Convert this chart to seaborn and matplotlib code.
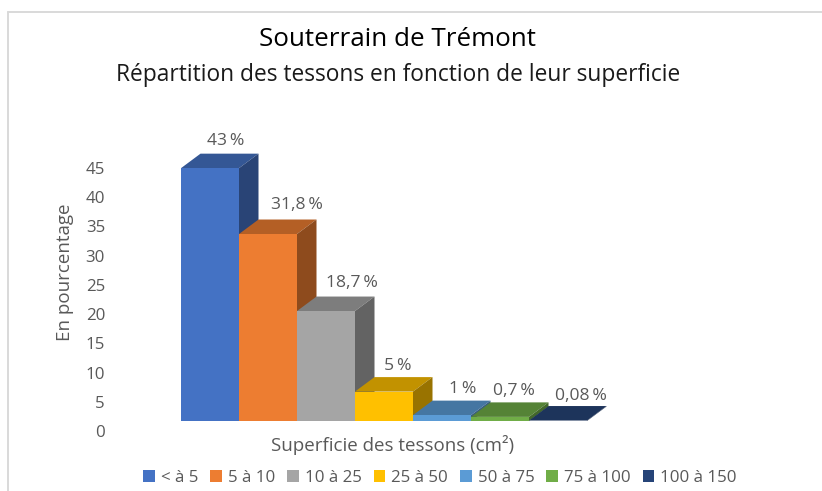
import numpy as np
import matplotlib
matplotlib.use("Agg")
import matplotlib.pyplot as plt
from matplotlib.lines import Line2D
from matplotlib.patches import Polygon, Patch
from matplotlib.colors import to_rgb
import seaborn as sns

categories = ["< à 5", "5 à 10", "10 à 25", "25 à 50", "50 à 75", "75 à 100", "100 à 150"]
values = [43, 31.8, 18.7, 5, 1, 0.7, 0.08]
labels = ["43\u2009%", "31,8\u2009%", "18,7\u2009%", "5\u2009%", "1\u2009%", "0,7\u2009%", "0,08\u2009%"]
colors = ["#4472C4", "#ED7D31", "#A5A5A5", "#FFC000", "#5B9BD5", "#70AD47", "#264478"]
label_offsets = [(16, 27.5), (29, 29.5), (26, 28.5), (14, 25.5), (21, 26.5), (14, 25.5), (23, 24.5)]
yticks = [0, 5, 10, 15, 20, 25, 30, 35, 40, 45]

W, H = 822, 491
sns.set_theme(style="white")
plt.rcParams["font.family"] = ["Open Sans", "DejaVu Sans"]
GRAY = "#595959"

def fx(px): return px / W
def fy(py): return 1 - py / H

fig = plt.figure(figsize=(W / 100, H / 100), dpi=100, facecolor="white")

# Main axes: bars. 1 value unit = 5.88 px, baseline at y=421 px
ymax = 50
top_px = 421 - ymax * 5.88
ax = fig.add_axes([fx(181), fy(421), fx(587) - fx(181), (421 - top_px) / H])
sns.barplot(x=categories, y=values, hue=categories, palette=colors, width=1.0,
            dodge=False, legend=False, ax=ax, saturation=1, order=categories)
ax.set_xlim(-0.5, 6.5)
ax.set_ylim(0, ymax)
ax.axis("off")

# Depth faces
dx = 19.5 / 58
dy = 14.5 / 5.88
for i, (bar, v, c) in enumerate(zip(ax.patches, values, colors)):
    rgb = np.array(to_rgb(c))
    bar.set_zorder(10 + i + 0.5)
    bar.set_linewidth(0)
    x0, x1 = i - 0.5, i + 0.5
    ax.add_patch(Polygon([(x0, v), (x1, v), (x1 + dx, v + dy), (x0 + dx, v + dy)],
                         closed=True, fc=rgb * 0.76, ec="none", zorder=10 + i, clip_on=False))
    ax.add_patch(Polygon([(x1, 0), (x1, v), (x1 + dx, v + dy), (x1 + dx, dy)],
                         closed=True, fc=rgb * 0.6, ec="none", zorder=10 + i, clip_on=False))
    ax.annotate(labels[i], (i, v), xytext=(label_offsets[i][0] * 0.72, label_offsets[i][1] * 0.72),
                textcoords="offset points", ha="center", va="center",
                fontsize=12.6, color=GRAY, zorder=30, annotation_clip=False)

# Value axis: 0 at y=431 px, 45 at y=168 px (back wall of the 3D chart)
ax2 = fig.add_axes([fx(112), fy(431), fx(170) - fx(112), (431 - 168) / H], frameon=False)
ax2.set_ylim(0, 45)
ax2.set_xticks([])
ax2.set_yticks(yticks)
ax2.tick_params(axis="y", length=0, pad=5, labelsize=12.2, labelcolor=GRAY)

# Frame
for xs, ys in [((8, 8), (491, 12)), ((8, 822), (12, 12))]:
    fig.add_artist(Line2D([fx(x) for x in xs], [fy(y) for y in ys], color="#D9D9D9", lw=1.4))

fig.text(fx(397.5), fy(40), "Souterrain de Trémont", ha="center", va="center", fontsize=18.7, color="black")
fig.text(fx(398), fy(75), "Répartition des tessons en fonction de leur superficie",
         ha="center", va="center", fontsize=16.4, color="#1a1a1a")
fig.text(fx(393), fy(445), "Superficie des tessons (cm²)", ha="center", va="center", fontsize=13.5, color=GRAY)
fig.text(fx(65), fy(272), "En pourcentage", rotation=90, ha="center", va="center", fontsize=13.5, color=GRAY)

handles = [Patch(fc=c, ec="none") for c in colors]
fig.legend(handles, categories, ncol=7, loc="center", bbox_to_anchor=(fx(440), fy(478)), frameon=False,
           fontsize=12.2, labelcolor=GRAY, handlelength=0.7, handleheight=0.7, handletextpad=0.35,
           columnspacing=0.7, borderpad=0)

fig.savefig("out.png", dpi=100)
